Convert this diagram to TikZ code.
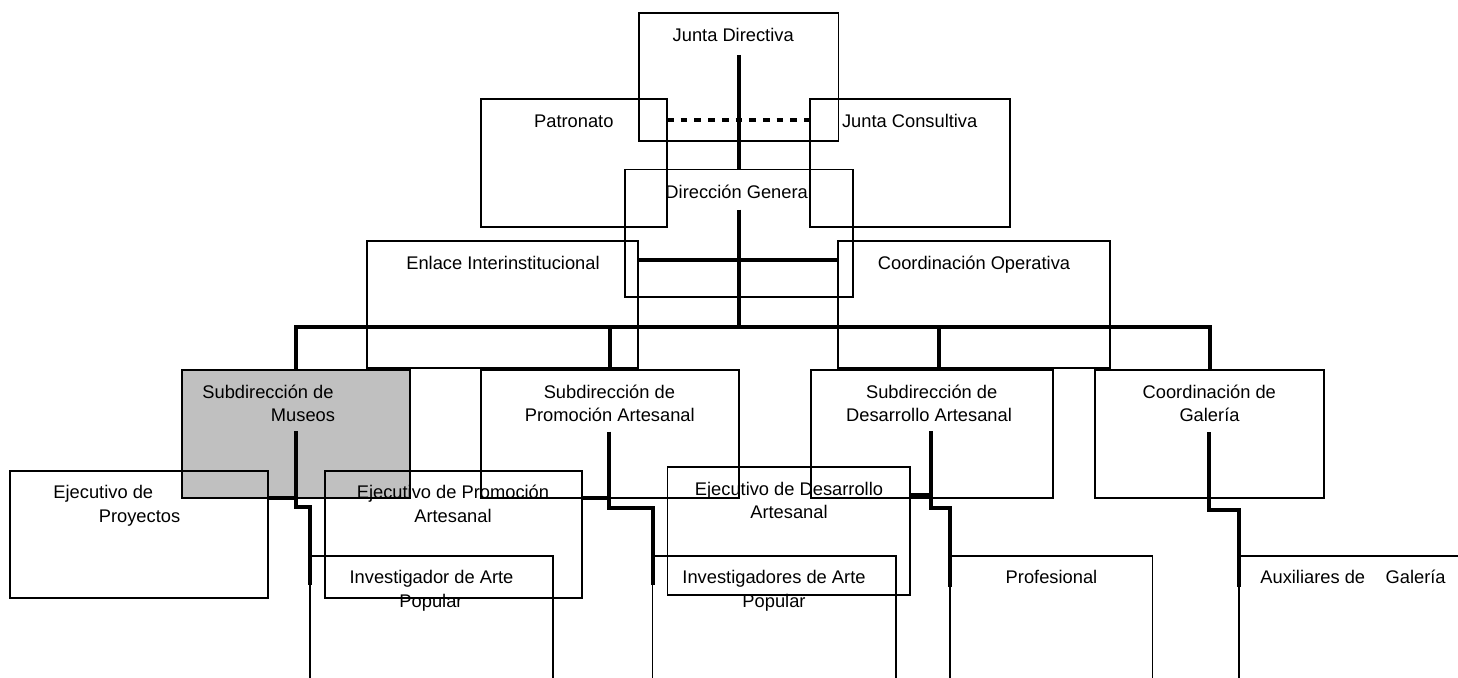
\documentclass[tikz,border=0pt]{standalone}
\usepackage{fontspec}
\setmainfont{Liberation Sans}
\definecolor{graybox}{HTML}{C0C0C0}
\begin{document}
\begin{tikzpicture}[x=1pt,y=-1pt,
  box/.style={draw,line width=1.7pt,inner sep=0pt,outer sep=0pt,anchor=north west},
  thk/.style={line width=4pt},
  dotl/.style={line width=4pt,dash pattern=on 6.7pt off 7pt},
  txt/.style={inner sep=0pt,anchor=base,font=\fontsize{18.3}{22}\selectfont}]
\path[use as bounding box,clip] (0,0) rectangle (1458,677);
\fill[white] (0,0) rectangle (1458,677);
% gray box first
\node[box,fill=graybox,minimum width=228.3pt,minimum height=127.7pt] (mus) at (181.7,370) {};
% texts
\node[txt] (tjd) at (733.2,41.6) {Junta Directiva};
\node[txt] (tpat) at (573.8,127.6) {Patronato};
\node[txt] (tjc) at (909.7,127.6) {Junta Consultiva};
\begin{scope}
  \clip (667,150) rectangle (810,230);
  \node[txt] (tdg) at (738.7,198.3) {Dirección General};
\end{scope}
\node[txt] (tenl) at (503,269.6) {Enlace Interinstitucional};
\node[txt] (tco) at (974,269.6) {Coordinación Operativa};
\node[txt] (tmus1) at (268,398.3) {Subdirección de};
\node[txt] (tmus2) at (303,421.6) {Museos};
\node[txt] (tpro1) at (609.4,398.3) {Subdirección de};
\node[txt] (tpro2) at (609.8,421.6) {Promoción Artesanal};
\node[txt] (tdes1) at (931.7,398.3) {Subdirección de};
\node[txt] (tdes2) at (929,421.6) {Desarrollo Artesanal};
\node[txt] (tgal1) at (1209.3,398.3) {Coordinación de};
\node[txt] (tgal2) at (1209.5,421.6) {Galería};
\node[txt] (tejy1) at (103.3,498.6) {Ejecutivo de};
\node[txt] (tejy2) at (139.5,522.3) {Proyectos};
\node[txt] (tejp1) at (453,498.6) {Ejecutivo de Promoción};
\node[txt] (tejp2) at (453,522.3) {Artesanal};
\node[txt] (tinv1) at (431.5,583.6) {Investigador de Arte};
\node[txt] (tinv2) at (431,607.3) {Popular};
\node[txt] (tejd1) at (789,495.6) {Ejecutivo de Desarrollo};
\node[txt] (tejd2) at (789,518.9) {Artesanal};
\node[txt] (tinvs1) at (774,583.6) {Investigadores de Arte};
\node[txt] (tinvs2) at (774,607.3) {Popular};
\node[txt] (tprof) at (1051.5,583.6) {Profesional};
\node[txt] (taux) at (1353,583.6) {Auxiliares de\hspace{15.4pt} Galería};
% boxes
\node[box,minimum width=199.7pt,minimum height=127.4pt] (jd) at (638.7,13.3) {};
\node[box,minimum width=185.8pt,minimum height=127.7pt] (pat) at (481.2,99.3) {};
\node[box,minimum width=200pt,minimum height=127.7pt] (jc) at (810,99.3) {};
\node[box,minimum width=228pt,minimum height=127.2pt] (dg) at (624.7,169.5) {};
\node[box,minimum width=271pt,minimum height=127.6pt] (enl) at (367.3,240.7) {};
\node[box,minimum width=271.7pt,minimum height=127.6pt] (co) at (838.3,240.7) {};
\node[box,minimum width=257.7pt,minimum height=127.7pt] (pro) at (481,370) {};
\node[box,minimum width=242.5pt,minimum height=127.7pt] (des) at (810.8,370) {};
\node[box,minimum width=228.8pt,minimum height=127.7pt] (gal) at (1095.2,370) {};
\node[box,minimum width=258.5pt,minimum height=127.3pt] (ejy) at (9.8,470.7) {};
\node[box,minimum width=256.7pt,minimum height=127.3pt] (ejp) at (325,470.7) {};
\node[box,minimum width=242.9pt,minimum height=127.4pt] (ejd) at (667.4,467.3) {};
\node[box,minimum width=243pt,minimum height=127.5pt] (inv) at (310,556) {};
\node[box,minimum width=243.4pt,minimum height=127.5pt] (invs) at (652.5,556) {};
\node[box,minimum width=202.6pt,minimum height=127.5pt] (prof) at (950,556) {};
\node[box,minimum width=260pt,minimum height=127.5pt] (aux) at (1239.2,556) {};
% connectors
\coordinate (jdt) at (738.6,55);
\draw[thk] (jdt) -- (jdt |- dg.north);
\coordinate (dl) at (700,120);
\draw[dotl] (pat.east |- dl) -- (jc.west |- dl);
\coordinate (dgt) at (738.6,209.5);
\coordinate (bus) at (738.6,326.5);
\draw[thk] (dgt) -- (bus);
\coordinate (hl) at (738.6,260);
\draw[thk] (enl.east |- hl) -- (co.west |- hl);
\draw[thk] (mus.north) |- (bus) -| (gal.north);
\draw[thk] (bus -| pro.north) -- (pro.north);
\coordinate (dx) at (939,326.5);
\draw[thk] (dx) -- (dx |- des.north);
% lower connectors
\coordinate (ym) at (0,497.7);
\coordinate (m1) at (295.5,431);
\coordinate (m2) at (310,507.3);
\coordinate (m3) at (310,585);
\draw[thk] (m1) |- (m2) -- (m3);
\draw[thk] (ejy.east |- ym) -- (m1 |- ym);
\coordinate (p1) at (609.3,431.7);
\coordinate (p2) at (652.5,508);
\coordinate (p3) at (652.5,585);
\draw[thk] (p1) |- (p2) -- (p3);
\draw[thk] (ejp.east |- ym) -- (p1 |- ym);
\coordinate (yd) at (0,495);
\coordinate (d1) at (931,431);
\coordinate (d2) at (950,508);
\coordinate (d3) at (950,586.7);
\draw[thk] (d1) |- (d2) -- (d3);
\draw[thk] (ejd.east |- yd) -- (d1 |- yd);
\coordinate (g1) at (1209.3,432);
\coordinate (g2) at (1239.2,510);
\coordinate (g3) at (1239.2,586.7);
\draw[thk] (g1) |- (g2) -- (g3);
\end{tikzpicture}
\end{document}
